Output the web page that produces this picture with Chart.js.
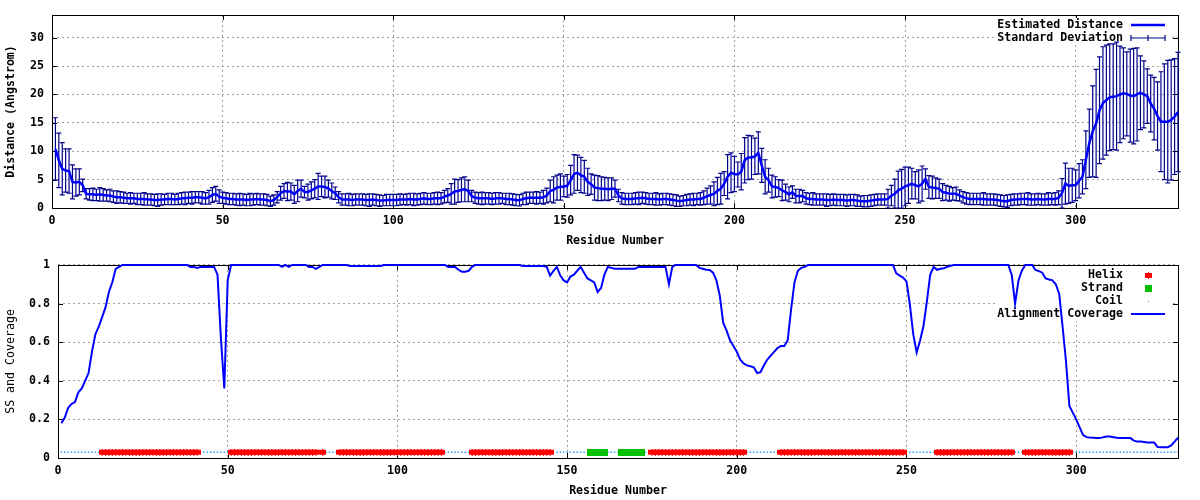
<!DOCTYPE html>
<html>
<head>
<meta charset="utf-8">
<script src="https://cdn.jsdelivr.net/npm/chart.js@4.4.0/dist/chart.umd.min.js"></script>
<style>
  html, body { margin: 0; padding: 0; background: #fff; }
  #wrap { position: relative; width: 1200px; height: 500px; }
  canvas { position: absolute; left: 0; }
</style>
</head>
<body>
<div id="wrap">
  <canvas id="distChart" width="1200" height="250" style="top:0"></canvas>
  <canvas id="ssChart" width="1200" height="250" style="top:250px"></canvas>
</div>
<script>
// ---- data (one value per residue, 1..330) ----
const distance = [
  10.4, 8.4, 6.9, 6.6, 6.5, 4.6, 4.5, 4.6, 4.0, 2.5,
  2.4, 2.4, 2.3, 2.4, 2.3, 2.2, 2.2, 2.0, 1.9, 1.9,
  1.8, 1.7, 1.7, 1.7, 1.6, 1.6, 1.6, 1.5, 1.5, 1.4,
  1.4, 1.5, 1.5, 1.6, 1.6, 1.5, 1.6, 1.7, 1.7, 1.8,
  1.8, 1.9, 1.9, 1.8, 1.7, 1.9, 2.3, 2.5, 2.0, 1.8,
  1.7, 1.6, 1.6, 1.5, 1.5, 1.5, 1.4, 1.5, 1.5, 1.6,
  1.5, 1.5, 1.4, 1.2, 1.4, 1.9, 2.6, 3.0, 2.9, 2.9,
  2.4, 3.0, 3.4, 2.8, 2.8, 3.1, 3.4, 3.8, 3.8, 3.7,
  3.4, 3.0, 2.6, 1.9, 1.5, 1.5, 1.5, 1.4, 1.5, 1.5,
  1.5, 1.4, 1.4, 1.5, 1.4, 1.3, 1.3, 1.4, 1.4, 1.4,
  1.4, 1.5, 1.5, 1.5, 1.6, 1.5, 1.5, 1.6, 1.7, 1.6,
  1.6, 1.7, 1.7, 1.7, 2.0, 2.2, 2.5, 2.9, 3.0, 3.2,
  3.3, 3.0, 2.1, 1.8, 1.7, 1.7, 1.7, 1.7, 1.6, 1.7,
  1.7, 1.7, 1.6, 1.6, 1.5, 1.4, 1.35, 1.6, 1.7, 1.8,
  1.8, 1.8, 1.8, 1.9, 2.2, 3.0, 3.2, 3.6, 3.7, 3.8,
  3.9, 4.9, 6.0, 6.2, 5.8, 5.5, 4.6, 4.2, 3.6, 3.5,
  3.4, 3.4, 3.3, 3.4, 3.4, 2.2, 1.7, 1.6, 1.6, 1.6,
  1.7, 1.7, 1.8, 1.7, 1.6, 1.6, 1.6, 1.5, 1.6, 1.6,
  1.5, 1.4, 1.3, 1.2, 1.3, 1.4, 1.5, 1.5, 1.6, 1.6,
  1.8, 2.1, 2.3, 2.5, 3.0, 3.4, 4.3, 5.5, 6.2, 6.0,
  5.9, 6.4, 8.4, 8.9, 8.9, 9.1, 9.7, 7.5, 5.5, 4.9,
  3.8, 3.7, 3.5, 3.1, 2.8, 2.4, 2.8, 2.1, 2.1, 2.1,
  1.7, 1.6, 1.6, 1.5, 1.5, 1.5, 1.4, 1.4, 1.5, 1.4,
  1.4, 1.4, 1.3, 1.4, 1.4, 1.3, 1.2, 1.2, 1.2, 1.3,
  1.4, 1.5, 1.5, 1.5, 1.6, 2.2, 2.5, 3.1, 3.4, 3.8,
  4.0, 4.3, 4.0, 3.8, 4.3, 5.1, 3.7, 3.6, 3.5, 3.4,
  2.8, 2.7, 2.5, 2.5, 2.5, 2.2, 1.9, 1.7, 1.6, 1.6,
  1.6, 1.6, 1.6, 1.5, 1.5, 1.5, 1.4, 1.3, 1.2, 1.2,
  1.4, 1.5, 1.5, 1.6, 1.6, 1.6, 1.5, 1.5, 1.6, 1.5,
  1.5, 1.6, 1.6, 1.6, 1.8, 2.6, 4.3, 3.9, 4.0, 4.0,
  4.8, 5.5, 8.5, 11.4, 13.5, 14.9, 17.2, 18.5, 19.0, 19.5,
  19.6, 19.7, 20.0, 20.2, 20.1, 19.8, 19.7, 20.0, 20.3, 20.0,
  19.7, 18.4, 17.5, 16.2, 15.2, 15.2, 15.2, 15.5, 16.1, 16.9
];

const stdDev = [
  5.5, 4.8, 4.6, 3.8, 3.9, 3.0, 2.4, 2.3, 1.1, 0.9,
  1.0, 1.1, 1.0, 1.2, 1.1, 1.0, 1.1, 1.0, 1.1, 1.0,
  1.0, 0.9, 1.0, 0.9, 1.0, 1.0, 1.1, 1.0, 1.0, 1.0,
  1.1, 1.0, 0.9, 1.0, 1.0, 0.9, 1.0, 1.0, 1.1, 1.0,
  1.1, 1.0, 1.0, 1.1, 1.0, 1.2, 1.3, 1.3, 1.2, 1.0,
  1.0, 1.0, 1.0, 1.0, 1.1, 1.0, 1.0, 1.1, 1.0, 1.0,
  1.0, 1.0, 1.0, 0.9, 0.9, 1.0, 1.2, 1.3, 1.6, 1.5,
  1.6, 1.9, 1.5, 1.0, 1.4, 1.5, 1.6, 2.3, 1.8, 1.9,
  1.5, 1.4, 1.1, 1.0, 1.0, 1.0, 1.1, 1.0, 1.0, 1.0,
  1.0, 1.0, 1.1, 1.0, 1.0, 1.0, 0.9, 1.0, 1.0, 1.0,
  1.0, 1.0, 0.9, 1.0, 1.0, 1.1, 1.0, 1.0, 1.0, 1.0,
  1.0, 1.0, 1.1, 1.0, 1.1, 1.2, 1.8, 2.2, 2.0, 2.1,
  2.2, 1.9, 1.0, 1.0, 1.0, 1.1, 1.0, 1.0, 1.0, 1.0,
  1.0, 0.9, 1.0, 1.0, 1.0, 1.0, 1.0, 1.0, 1.1, 1.0,
  1.0, 1.1, 1.0, 1.2, 1.3, 1.9, 2.3, 2.2, 2.3, 1.8,
  2.0, 2.6, 3.4, 3.1, 3.1, 2.9, 2.4, 1.8, 2.2, 2.2,
  2.1, 2.0, 2.0, 1.9, 1.5, 1.1, 1.0, 1.0, 1.0, 1.0,
  1.0, 1.1, 1.0, 1.0, 1.0, 1.0, 1.1, 1.0, 1.0, 1.0,
  1.0, 1.0, 1.0, 0.9, 0.9, 1.0, 1.0, 1.1, 1.0, 1.1,
  1.2, 1.4, 1.6, 2.1, 2.4, 2.7, 2.1, 3.9, 3.5, 3.1,
  2.2, 3.2, 4.0, 3.9, 3.8, 3.2, 3.7, 3.0, 3.0, 2.1,
  2.0, 1.8, 1.5, 1.8, 1.4, 1.3, 1.1, 1.2, 1.2, 1.0,
  1.0, 1.0, 1.1, 1.0, 1.0, 1.0, 1.1, 1.0, 1.0, 1.0,
  1.0, 1.0, 1.0, 1.0, 1.0, 1.0, 0.9, 1.0, 1.0, 1.0,
  1.0, 1.0, 1.0, 1.0, 1.7, 1.8, 2.6, 3.4, 3.4, 3.4,
  3.2, 2.7, 2.4, 2.9, 3.1, 1.8, 2.0, 2.0, 1.8, 1.7,
  1.5, 1.3, 1.3, 1.1, 1.2, 1.0, 1.0, 1.0, 1.0, 1.0,
  1.0, 1.0, 1.1, 1.0, 1.0, 1.0, 1.0, 1.0, 1.0, 1.1,
  1.0, 1.0, 1.0, 1.0, 1.0, 1.1, 1.0, 1.0, 1.0, 1.0,
  1.0, 1.1, 1.0, 1.1, 1.2, 2.6, 3.6, 3.1, 3.0, 2.7,
  3.0, 3.0, 5.1, 6.0, 8.0, 9.5, 9.4, 9.9, 9.7, 9.4,
  9.3, 9.5, 8.5, 8.0, 7.4, 8.2, 8.4, 8.2, 6.5, 5.9,
  4.8, 5.0, 5.5, 6.0, 8.8, 10.2, 10.8, 10.6, 10.2, 10.5
];

const coverage = [
  0.18, 0.21, 0.26, 0.28, 0.29, 0.34, 0.36, 0.40, 0.44, 0.55,
  0.64, 0.68, 0.73, 0.78, 0.86, 0.91, 0.98, 0.99, 1, 1,
  1, 1, 1, 1, 1, 1, 1, 1, 1, 1,
  1, 1, 1, 1, 1, 1, 1, 1, 0.99, 0.99,
  0.985, 0.99, 0.99, 0.99, 0.99, 0.99, 0.95, 0.62, 0.36, 0.92,
  1, 1, 1, 1, 1, 1, 1, 1, 1, 1,
  1, 1, 1, 1, 1, 0.99, 1, 0.99, 1, 1,
  1, 1, 1, 0.99, 0.99, 0.98, 0.99, 1, 1, 1,
  1, 1, 1, 1, 1, 0.995, 0.995, 0.995, 0.995, 0.995,
  0.995, 0.995, 0.995, 0.995, 0.995, 1, 1, 1, 1, 1,
  1, 1, 1, 1, 1, 1, 1, 1, 1, 1,
  1, 1, 1, 1, 0.99, 0.99, 0.99, 0.975, 0.965, 0.965,
  0.97, 0.99, 1, 1, 1, 1, 1, 1, 1, 1,
  1, 1, 1, 1, 1, 1, 0.995, 0.995, 0.995, 0.995,
  0.995, 0.995, 0.995, 0.99, 0.945, 0.97, 0.99, 0.945, 0.92, 0.91,
  0.94, 0.95, 0.97, 0.99, 0.96, 0.93, 0.92, 0.91, 0.86, 0.88,
  0.95, 0.99, 0.985, 0.98, 0.98, 0.98, 0.98, 0.98, 0.98, 0.98,
  0.99, 0.99, 0.99, 0.99, 0.99, 0.99, 0.99, 0.99, 0.99, 0.90,
  0.99, 1, 1, 1, 1, 1, 1, 1, 0.985, 0.98,
  0.975, 0.974, 0.96, 0.92, 0.84, 0.70, 0.66, 0.61, 0.58, 0.55,
  0.51, 0.49, 0.48, 0.475, 0.47, 0.44, 0.445, 0.48, 0.51, 0.53,
  0.55, 0.57, 0.58, 0.58, 0.61, 0.77, 0.91, 0.97, 0.985, 0.99,
  1, 1, 1, 1, 1, 1, 1, 1, 1, 1,
  1, 1, 1, 1, 1, 1, 1, 1, 1, 1,
  1, 1, 1, 1, 1, 1, 0.957, 0.945, 0.935, 0.915,
  0.795, 0.64, 0.547, 0.607, 0.684, 0.81, 0.95, 0.99, 0.975, 0.98,
  0.983, 0.99, 0.996, 1, 1, 1, 1, 1, 1, 1,
  1, 1, 1, 1, 1, 1, 1, 1, 1, 1,
  0.95, 0.80, 0.92, 0.97, 1, 1, 1, 0.974, 0.968, 0.96,
  0.93, 0.925, 0.92, 0.90, 0.85, 0.68, 0.50, 0.27, 0.235, 0.20,
  0.16, 0.12, 0.108, 0.106, 0.105, 0.104, 0.103, 0.108, 0.111, 0.111,
  0.108, 0.105, 0.103, 0.103, 0.103, 0.103, 0.09, 0.085, 0.085, 0.083,
  0.08, 0.08, 0.08, 0.057, 0.056, 0.056, 0.056, 0.065, 0.085, 0.106
];

// secondary structure per residue: H helix, E strand, C coil
const secStruct = [
  'CCCCCCCCCC', 'CCHHHHHHHH', 'HHHHHHHHHH', 'HHHHHHHHHH', 'HCCCCCCCCC',
  'HHHHHHHHHH', 'HHHHHHHHHH', 'HHHHHHCHCC', 'CCHHHHHHHH', 'HHHHHHHHHH',
  'HHHHHHHHHH', 'HHHCCCCCCC', 'CHHHHHHHHH', 'HHHHHHHHHH', 'HHHHHCCCCC',
  'CCCCCCEEEE', 'ECCCCEEEEE', 'EECCHHHHHH', 'HHHHHHHHHH', 'HHHHHHHHHH',
  'HHCCCCCCCC', 'CCHHHHHHHH', 'HHHHHHHHHH', 'HHHHHHHHHH', 'HHHHHHHHHC',
  'CCCCCCCCHH', 'HHHHHHHHHH', 'HHHHHHHHHH', 'HCCCHHHHHH', 'HHHHHHHHCC',
  'CCCCCCCCCC', 'CCCCCCCCCC', 'CCCCCCCCCC'
].join('');
const ssLevel = 0.03;

const residues = distance.map((d, i) => i + 1);
[stdDev, coverage].forEach(a => { if (a.length !== residues.length) throw new Error('length ' + a.length); });
if (secStruct.length !== residues.length) throw new Error('ss length ' + secStruct.length);

const MONO = '"DejaVu Sans Mono", "Liberation Mono", monospace';
const tickFont = { family: MONO, size: 11.6, weight: 'bold' };

// small bitmap markers like the gnuplot points
function markerImage(w, h, color, notched) {
    const c = document.createElement('canvas');
    c.width = w; c.height = h;
    const g = c.getContext('2d');
    g.fillStyle = color;
    if (notched) {
        g.fillRect(0, 1, w, h - 2);
        g.fillRect(Math.floor(w / 2), 0, 1, h);
    } else {
        g.fillRect(0, 0, w, h);
    }
    return c;
}
const helixImg = markerImage(7, 7, '#ff0000', true);
const strandImg = markerImage(7, 7, '#00c000', false);
const coilImg = markerImage(1, 1, '#1e90ff', false);

// border, inward ticks and opaque key box, drawn after the grid
const gnuFrame = {
    id: 'gnuFrame',
    beforeDatasetsDraw(chart, args, opts) {
        const { ctx, chartArea: a, scales: { x, y } } = chart;
        ctx.save();
        ctx.strokeStyle = '#000';
        ctx.lineWidth = 1;
        ctx.beginPath();
        x.ticks.forEach(t => {
            const px = Math.round(x.getPixelForValue(t.value)) + 0.5;
            ctx.moveTo(px, a.bottom); ctx.lineTo(px, a.bottom - 5);
            ctx.moveTo(px, a.top); ctx.lineTo(px, a.top + 5);
        });
        y.ticks.forEach(t => {
            const py = Math.round(y.getPixelForValue(t.value)) + 0.5;
            ctx.moveTo(a.left, py); ctx.lineTo(a.left + 5, py);
            ctx.moveTo(a.right, py); ctx.lineTo(a.right - 5, py);
        });
        ctx.stroke();
        ctx.strokeRect(Math.round(a.left) + 0.5, Math.round(a.top) + 0.5,
                       Math.round(a.right - a.left), Math.round(a.bottom - a.top));

        // key
        const k = opts.key;
        ctx.fillStyle = '#fff';
        ctx.fillRect(k.box[0], k.box[1], k.box[2], k.box[3]);
        ctx.font = 'bold 11.6px ' + MONO;
        ctx.textAlign = 'right';
        ctx.textBaseline = 'middle';
        k.items.forEach((it, i) => {
            const ry = k.rowY + i * k.rowGap;
            ctx.fillStyle = '#000';
            ctx.fillText(it.text, k.textX, ry);
            const x0 = k.sampleX[0], x1 = k.sampleX[1], xm = (x0 + x1) / 2;
            if (it.kind === 'line') {
                ctx.strokeStyle = it.color; ctx.lineWidth = it.width;
                ctx.beginPath(); ctx.moveTo(x0, ry); ctx.lineTo(x1, ry); ctx.stroke();
            } else if (it.kind === 'errorbar') {
                ctx.strokeStyle = it.color; ctx.lineWidth = 1.2;
                ctx.beginPath();
                ctx.moveTo(x0, ry); ctx.lineTo(x1, ry);
                [x0, xm, x1].forEach(tx => { ctx.moveTo(tx, ry - 3); ctx.lineTo(tx, ry + 3); });
                ctx.stroke();
            } else if (it.kind === 'image') {
                ctx.drawImage(it.img, Math.round(xm - it.img.width / 2), Math.round(ry - it.img.height / 2));
            }
        });
        ctx.restore();
    }
};

// vertical error bars read from dataset.errors
const errorBars = {
    id: 'errorBars',
    beforeDatasetsDraw(chart, args, opts) {
        const { ctx, scales: { x, y } } = chart;
        chart.data.datasets.forEach(ds => {
            if (!ds.errors) return;
            ctx.save();
            ctx.strokeStyle = opts.color;
            ctx.lineWidth = opts.width;
            ctx.beginPath();
            ds.data.forEach((p, i) => {
                const px = x.getPixelForValue(p.x);
                const lo = y.getPixelForValue(Math.max(0, p.y - ds.errors[i]));
                const hi = y.getPixelForValue(p.y + ds.errors[i]);
                ctx.moveTo(px, lo); ctx.lineTo(px, hi);
                ctx.moveTo(px - 2.5, lo); ctx.lineTo(px + 2.5, lo);
                ctx.moveTo(px - 2.5, hi); ctx.lineTo(px + 2.5, hi);
            });
            ctx.stroke();
            ctx.restore();
        });
    }
};

function xScale() {
    return {
        type: 'linear', min: 0, max: 330,
        afterFit: s => { s.height = 42; },
        ticks: { stepSize: 50, includeBounds: false, padding: 6, maxRotation: 0, color: '#000', font: tickFont },
        grid: { color: '#a0a0a0', drawTicks: false },
        border: { display: false, dash: [2, 3] },
        title: { display: true, text: 'Residue Number', color: '#000', font: tickFont, padding: { top: 0, bottom: 2 } }
    };
}

// top panel: estimated distance with standard deviation
new Chart(document.getElementById('distChart'), {
    type: 'line',
    data: {
        datasets: [{
            label: 'Estimated Distance',
            data: residues.map((r, i) => ({ x: r, y: distance[i] })),
            errors: stdDev,
            borderColor: '#0000ff',
            borderWidth: 2.5,
            pointRadius: 0,
            tension: 0,
            fill: false,
            clip: 4
        }]
    },
    options: {
        responsive: false,
        animation: false,
        events: [],
        layout: { padding: { top: 14, right: 22, left: 0, bottom: 0 } },
        plugins: {
            legend: { display: false },
            tooltip: { enabled: false },
            errorBars: { color: '#00008b', width: 1.2 },
            gnuFrame: {
                key: {
                    box: [996, 18, 176, 27], textX: 1123, sampleX: [1131, 1165], rowY: 25, rowGap: 13,
                    items: [
                        { text: 'Estimated Distance', kind: 'line', color: '#0000ff', width: 2.5 },
                        { text: 'Standard Deviation', kind: 'errorbar', color: '#00008b' }
                    ]
                }
            }
        },
        scales: {
            x: xScale(),
            y: {
                min: 0, max: 34,
                afterFit: s => { s.width = 52; },
                ticks: { stepSize: 5, includeBounds: false, padding: 8, color: '#000', font: tickFont },
                grid: { color: '#a0a0a0', drawTicks: false },
                border: { display: false, dash: [2, 3] },
                title: { display: true, text: 'Distance (Angstrom)', color: '#000', font: tickFont, padding: { top: 4, bottom: 0 } }
            }
        }
    },
    plugins: [gnuFrame, errorBars]
});

// bottom panel: secondary structure and alignment coverage
const ssPoints = code => residues.filter((r, i) => secStruct[i] === code).map(r => ({ x: r, y: ssLevel }));

new Chart(document.getElementById('ssChart'), {
    type: 'line',
    data: {
        datasets: [
            {
                label: 'Alignment Coverage',
                data: residues.map((r, i) => ({ x: r, y: coverage[i] })),
                borderColor: '#0000ff',
                borderWidth: 2,
                pointRadius: 0,
                tension: 0,
                fill: false,
                clip: 4
            },
            {
                label: 'Helix', data: ssPoints('H'), showLine: false,
                pointStyle: helixImg, pointRadius: 3
            },
            {
                label: 'Strand', data: ssPoints('E'), showLine: false,
                pointStyle: strandImg, pointRadius: 3
            },
            {
                label: 'Coil', data: ssPoints('C'), showLine: false,
                pointStyle: 'rect', pointRadius: 1, pointBorderWidth: 0,
                pointBackgroundColor: '#1e90ff'
            }
        ]
    },
    options: {
        responsive: false,
        animation: false,
        events: [],
        layout: { padding: { top: 13, right: 22, left: 0, bottom: 0 } },
        plugins: {
            legend: { display: false },
            tooltip: { enabled: false },
            gnuFrame: {
                key: {
                    box: [996, 16, 176, 55], textX: 1123, sampleX: [1131, 1165], rowY: 25, rowGap: 13,
                    items: [
                        { text: 'Helix', kind: 'image', img: helixImg },
                        { text: 'Strand', kind: 'image', img: strandImg },
                        { text: 'Coil', kind: 'image', img: coilImg },
                        { text: 'Alignment Coverage', kind: 'line', color: '#0000ff', width: 2 }
                    ]
                }
            }
        },
        scales: {
            x: xScale(),
            y: {
                min: 0, max: 1,
                afterFit: s => { s.width = 58; },
                ticks: {
                    stepSize: 0.2, includeBounds: false, padding: 8, color: '#000', font: tickFont,
                    callback: v => String(Math.round(v * 10) / 10)
                },
                grid: { color: '#a0a0a0', drawTicks: false },
                border: { display: false, dash: [2, 3] },
                title: {
                    display: true, text: 'SS and Coverage', color: '#000',
                    font: { family: MONO, size: 11.6, weight: 'normal' }, padding: { top: 4, bottom: 0 }
                }
            }
        }
    },
    plugins: [gnuFrame]
});
</script>
</body>
</html>
